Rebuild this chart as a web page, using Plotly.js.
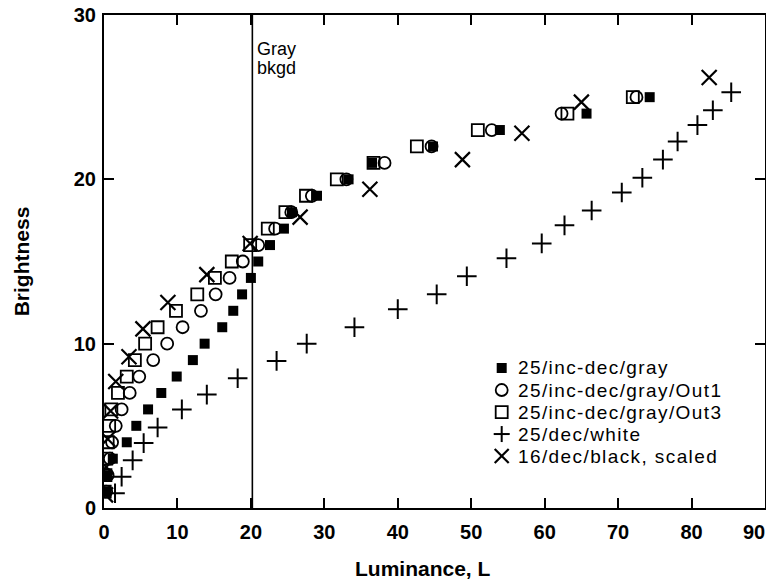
<!DOCTYPE html>
<html>
<head>
<meta charset="utf-8">
<script src="https://cdn.plot.ly/plotly-3.0.1.min.js"></script>
<style>html,body{margin:0;padding:0;background:#fff;}#chart{width:766px;height:584px;}</style>
</head>
<body>
<div id="chart"></div>
<script>
// 25/inc-dec/gray (filled squares)
const grayB = [1,2,3,4,5,6,7,8,9,10,11,12,13,14,15,16,17,18,19,20,21,22,23,24,25];
const grayL = [0.15,0.4,1.2,3.1,4.4,6.0,7.8,9.9,12.1,13.7,16.1,17.6,18.8,20.0,21.0,22.6,24.5,25.6,29.0,33.3,36.5,44.8,53.9,65.7,74.3];
// 25/inc-dec/gray/Out1 (open circles)
const out1B = [1,2,3,4,5,6,7,8,9,10,11,12,13,14,15,16,17,18,19,20,21,22,23,24,25];
const out1L = [0.3,0.5,0.8,1.1,1.6,2.4,3.5,4.8,6.7,8.6,10.7,13.2,15.2,17.1,18.9,21.0,23.3,25.5,28.3,33.0,38.2,44.6,52.8,62.3,72.5];
// 25/inc-dec/gray/Out3 (open squares)
const out3B = [1,2,3,4,5,6,7,8,9,10,11,12,13,14,15,16,17,18,19,20,21,22,23,24,25];
const out3L = [0.1,0.2,0.3,0.5,0.7,1.0,1.9,3.1,4.2,5.6,7.3,9.8,12.7,15.1,17.4,19.9,22.3,24.7,27.5,31.7,36.7,42.6,50.9,63.1,72.0];
// 25/dec/white (plus)
const whiteB = [0.9,1.9,2.9,3.95,4.9,6.0,6.9,7.9,8.95,10.0,11.0,12.1,13.0,14.1,15.2,16.1,17.2,18.1,19.2,20.1,21.2,22.3,23.3,24.2,25.3];
const whiteL = [1.5,2.4,3.9,5.4,7.3,10.6,14.0,18.2,23.5,27.6,34.1,40.0,45.3,49.4,54.8,59.6,62.7,66.4,70.5,73.3,76.1,78.1,80.8,82.9,85.4];
// 16/dec/black, scaled (x)
const blackB = [0.8,2.5,4.2,5.9,7.7,9.2,10.9,12.5,14.2,16.1,17.7,19.4,21.2,22.8,24.7,26.2];
const blackL = [0.2,0.3,0.5,0.9,1.6,3.4,5.3,8.7,14.0,19.9,26.7,36.2,48.8,56.9,65.0,82.4];

const seriesNames = ['25/inc-dec/gray','25/inc-dec/gray/Out1','25/inc-dec/gray/Out3','25/dec/white','16/dec/black, scaled'];
const legendSymbols = ['fsquare','circle','square','plus','x'];
const grayLineX = 20.2;
const xTicks = [0,10,20,30,40,50,60,70,80,90];
const xTickText = ['0','10','20','30','40','50','60','70','80',''];
const lastXTick = '90';
const yTicks = [0,10,20,30];
const xTitle = 'Luminance, L';
const yTitle = 'Brightness';

const black = '#000';
const traces = [
  {x: grayL, y: grayB, name: seriesNames[0], mode: 'markers', type: 'scatter',
   marker: {symbol: 'square', size: 10, color: black, line: {width: 0}}},
  {x: out1L, y: out1B, name: seriesNames[1], mode: 'markers', type: 'scatter',
   marker: {symbol: 'circle-open', size: 12, color: black, line: {width: 1.8, color: black}}},
  {x: out3L, y: out3B, name: seriesNames[2], mode: 'markers', type: 'scatter',
   marker: {symbol: 'square-open', size: 12, color: black, line: {width: 1.8, color: black}}},
  {x: whiteL, y: whiteB, name: seriesNames[3], mode: 'markers', type: 'scatter',
   marker: {symbol: 'cross-thin-open', size: 14, color: black, line: {width: 2, color: black}}},
  {x: blackL, y: blackB, name: seriesNames[4], mode: 'markers', type: 'scatter',
   marker: {symbol: 'x-thin-open', size: 15, color: black, line: {width: 2.2, color: black}}}
];

const tickFont = {family: '"Liberation Sans", Arial, sans-serif', size: 20, color: black, weight: 'bold'};
const titleFont = {family: '"Liberation Sans", Arial, sans-serif', size: 21, color: black, weight: 'bold'};
const textFont = {family: '"Liberation Sans", Arial, sans-serif', size: 19, color: black};

// manual legend (anchored in data coordinates, sized in pixels)
const legX = 54.15, legTextX = 56.1, legY0 = 8.52, legStep = 1.34;
const shapes = [{type: 'line', xref: 'x', yref: 'y', x0: grayLineX, x1: grayLineX, y0: 0, y1: 30,
                 line: {color: black, width: 1.6}}];
const annotations = [
  {xref: 'x', yref: 'y', x: 20.6, y: 27.95, text: 'Gray', showarrow: false, xanchor: 'left', yanchor: 'middle', font: {...textFont, size: 18}},
  {xref: 'x', yref: 'y', x: 20.6, y: 26.8, text: 'bkgd', showarrow: false, xanchor: 'left', yanchor: 'middle', font: {...textFont, size: 18}},
  {xref: 'x', yref: 'paper', x: 90, y: 0, text: lastXTick, showarrow: false, xanchor: 'right', yanchor: 'middle',
   xshift: 2, yshift: -24, font: tickFont},
  {xref: 'paper', yref: 'paper', x: 0.5, y: 0, text: xTitle, showarrow: false, xanchor: 'center', yanchor: 'middle',
   xshift: -12, yshift: -60, font: titleFont}
];
function pshape(type, yv, x0, x1, y0, y1, line, fill) {
  return {type: type, xref: 'x', yref: 'y', xsizemode: 'pixel', ysizemode: 'pixel',
          xanchor: legX, yanchor: yv, x0: x0, x1: x1, y0: y0, y1: y1,
          line: line, fillcolor: fill || 'rgba(0,0,0,0)'};
}
legendSymbols.forEach((sym, i) => {
  const yv = legY0 - i * legStep;
  const ln = {color: black, width: 1.8};
  if (sym === 'fsquare') shapes.push(pshape('rect', yv, -5, 5, -5, 5, {width: 0}, black));
  if (sym === 'circle') shapes.push(pshape('circle', yv, -6, 6, -6, 6, ln));
  if (sym === 'square') shapes.push(pshape('rect', yv, -6, 6, -6, 6, ln));
  if (sym === 'plus') {
    shapes.push(pshape('line', yv, -8, 8, 0, 0, {color: black, width: 2}));
    shapes.push(pshape('line', yv, 0, 0, -8, 8, {color: black, width: 2}));
  }
  if (sym === 'x') {
    shapes.push(pshape('line', yv, -7, 7, -7, 7, {color: black, width: 2.2}));
    shapes.push(pshape('line', yv, -7, 7, 7, -7, {color: black, width: 2.2}));
  }
  annotations.push({xref: 'x', yref: 'y', x: legTextX, y: yv,
                    text: '<span style="letter-spacing:1.4px">' + seriesNames[i] + '</span>', showarrow: false,
                    xanchor: 'left', yanchor: 'middle', font: textFont});
});

const layout = {
  width: 766, height: 584,
  margin: {l: 104, r: 1, t: 15, b: 76},
  paper_bgcolor: '#fff', plot_bgcolor: '#fff',
  showlegend: false,
  font: {family: '"Liberation Sans", Arial, sans-serif', color: black},
  xaxis: {
    range: [0, 90], tickvals: xTicks, ticktext: xTickText,
    ticks: 'inside', ticklen: 10, tickwidth: 2, tickcolor: black,
    showline: true, linewidth: 2, linecolor: black, mirror: 'ticks',
    showgrid: false, zeroline: false, tickfont: tickFont, ticklabelstandoff: 5
  },
  yaxis: {
    range: [0, 30], tickvals: yTicks, ticktext: yTicks.map(String),
    ticks: 'inside', ticklen: 10, tickwidth: 2, tickcolor: black,
    showline: true, linewidth: 2, linecolor: black, mirror: 'ticks',
    showgrid: false, zeroline: false, tickfont: tickFont, ticklabelstandoff: 2,
    title: {text: yTitle, font: titleFont, standoff: 38}
  },
  shapes: shapes,
  annotations: annotations
};

Plotly.newPlot('chart', traces, layout, {displayModeBar: false, staticPlot: true});
</script>
</body>
</html>
